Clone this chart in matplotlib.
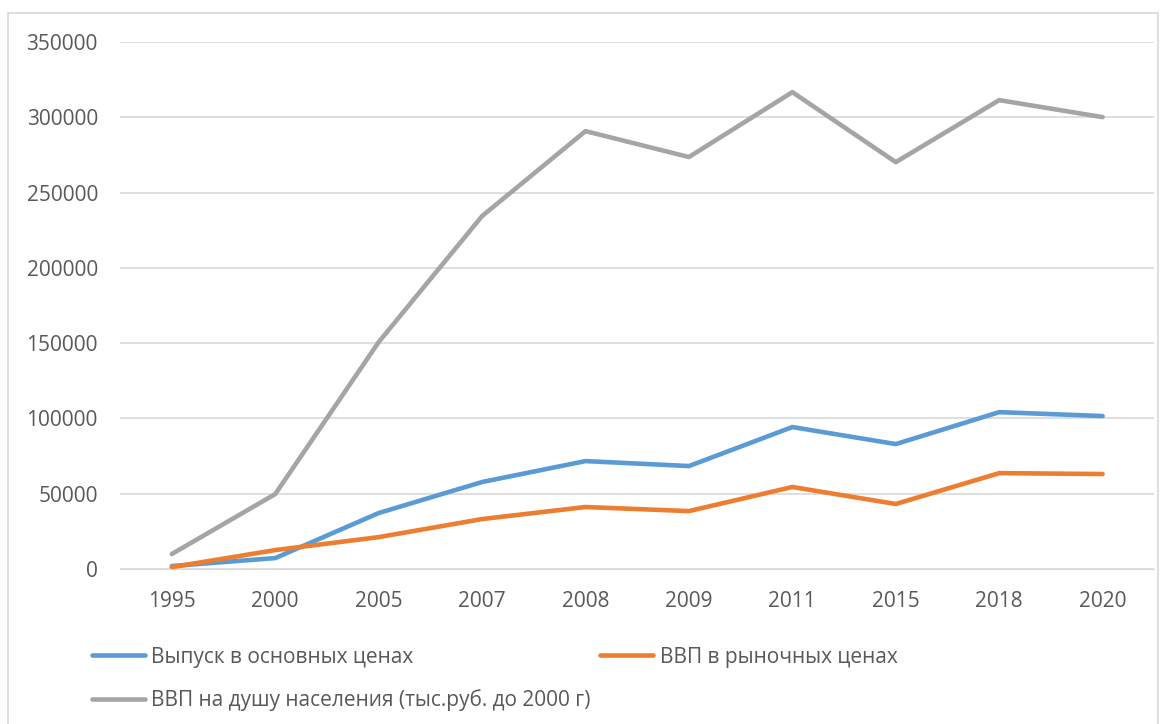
import matplotlib.pyplot as plt
from matplotlib.patches import Rectangle

years = ["1995", "2000", "2005", "2007", "2008", "2009", "2011", "2015", "2018", "2020"]
vypusk = [2000, 7300, 37200, 57800, 71700, 68400, 94300, 83000, 104200, 101600]
vvp = [1300, 12600, 21200, 33200, 41200, 38500, 54500, 43200, 63700, 63100]
vvp_dush = [10000, 49800, 150700, 234400, 290800, 273600, 316700, 270200, 311400, 300100]

labels = ["Выпуск в основных ценах", "ВВП в рыночных ценах",
          "ВВП на душу населения (тыс.руб. до 2000 г)"]

plt.rcParams['font.family'] = ['Open Sans', 'DejaVu Sans']
txt = '#595959'
fs = 15

fig = plt.figure(figsize=(11.66, 7.24), dpi=100)
ax = fig.add_axes([0.103, 0.214, 0.887, 0.728])

x = range(len(years))
l1, = ax.plot(x, vypusk, color='#5B9BD5', lw=3.3, solid_capstyle='round')
l2, = ax.plot(x, vvp, color='#ED7D31', lw=3.3, solid_capstyle='round')
l3, = ax.plot(x, vvp_dush, color='#A5A5A5', lw=3.3, solid_capstyle='round')

ax.set_xlim(-0.5, len(years) - 0.5)
ax.set_ylim(0, 350000)
ax.set_yticks(range(0, 350001, 50000))
ax.set_xticks(list(x))
ax.set_xticklabels(years)
ax.tick_params(colors=txt, labelsize=fs, length=0)
ax.tick_params(axis='y', pad=16)
ax.tick_params(axis='x', pad=16)
ax.grid(axis='y', color='#D9D9D9', lw=1.2)
ax.set_axisbelow(True)
for s in ax.spines.values():
    s.set_visible(False)
ax.spines['bottom'].set_visible(True)
ax.spines['bottom'].set_color('#D9D9D9')

leg = fig.legend([l1, l3, l2], [labels[0], labels[2], labels[1]], ncol=2,
                 loc='upper left', bbox_to_anchor=(92 / 1166, 0.107), frameon=False,
                 fontsize=fs, labelcolor=txt, handlelength=2.55, handletextpad=0.3,
                 columnspacing=0.45, labelspacing=1.05, borderpad=0, borderaxespad=0)

# chart border
fig.patches.append(Rectangle((8 / 1166, -0.1), 1150 / 1166, 1.1 - 13 / 724,
                             transform=fig.transFigure, fill=False,
                             edgecolor='#D9D9D9', lw=1.2))

fig.savefig('out.png', dpi=100, facecolor='white')
